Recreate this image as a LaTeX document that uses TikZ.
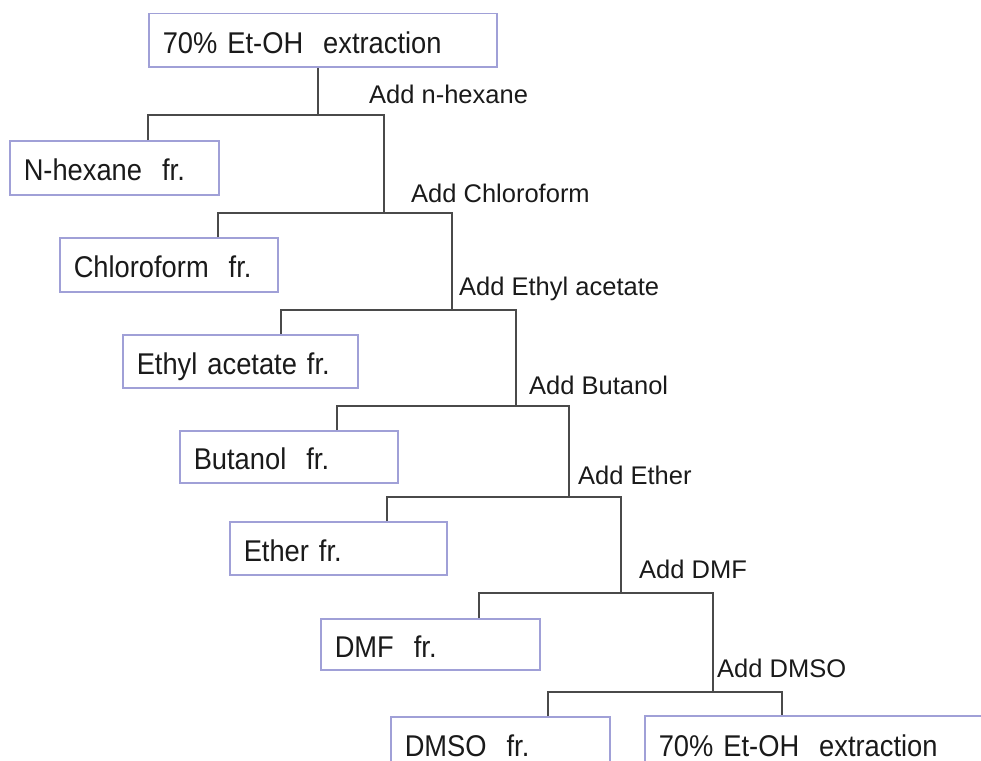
\documentclass[tikz,border=0pt]{standalone}
\usepackage{fontspec}
\setmainfont{Liberation Sans}
\newfontfamily\boxfont{Liberation Sans}[FakeStretch=0.91]
\definecolor{boxline}{RGB}{160,160,215}
\definecolor{conncol}{RGB}{74,74,74}
\definecolor{txtcol}{RGB}{26,26,26}
\tikzset{
  fbox/.style={draw=boxline, line width=1.5pt, anchor=north west, inner xsep=14pt, inner ysep=0pt,
    align=left, text height=26pt, text depth=0pt, text=txtcol,
    font=\boxfont\fontsize{30}{36}\selectfont},
  addlbl/.style={anchor=base west, inner sep=0pt, text=txtcol, font=\fontsize{25.5}{30}\selectfont},
  conn/.style={draw=conncol, line width=1.5pt}
}
\newcommand{\fbx}[6]{% name, x1, y1, x2, y2, text
  \pgfmathsetmacro{\bw}{#4-#2-28}
  \node[fbox, text width=\bw pt, minimum height=#5-#3] (#1) at (#2,#3) {#6};
}
\begin{document}
\begin{tikzpicture}[x=1pt,y=-1pt]
\useasboundingbox (0,0) rectangle (981,760);
\clip (0,0) rectangle (981,760);

\fbx{top}{148}{13}{496}{66}{70\% Et-OH\ \ extraction}
\fbx{nhex}{9}{140}{218}{194}{N-hexane\ \ fr.}
\fbx{chl}{59}{237}{277}{291}{Chloroform\ \ fr.}
\fbx{eth}{122}{334}{357}{387}{Ethyl acetate\ fr.}
\fbx{but}{179}{430}{397}{482}{Butanol\ \ fr.}
\fbx{ethr}{229}{521}{446}{574}{Ether\ fr.}
\fbx{dmf}{320}{618}{539}{669}{DMF\ \ fr.}
\fbx{dmso}{390}{716}{609}{770}{DMSO\ \ fr.}
\fbx{final}{644}{715}{1004}{770}{70\% Et-OH\ \ extraction}

\node[addlbl] (l1) at (369,103) {Add n-hexane};
\node[addlbl] (l2) at (411,202) {Add Chloroform};
\node[addlbl] (l3) at (459,295) {Add Ethyl acetate};
\node[addlbl] (l4) at (529,394) {Add Butanol};
\node[addlbl] (l5) at (578,484) {Add Ether};
\node[addlbl] (l6) at (639,578) {Add DMF};
\node[addlbl] (l7) at (717,677) {Add DMSO};

\coordinate (in0) at (318,115);
\coordinate (L1) at (148,115); \coordinate (R1) at (384,115);
\coordinate (L2) at (218,213); \coordinate (R2) at (452,213);
\coordinate (L3) at (281,310); \coordinate (R3) at (516,310);
\coordinate (L4) at (337,406); \coordinate (R4) at (569,406);
\coordinate (L5) at (387,497); \coordinate (R5) at (621,497);
\coordinate (L6) at (479,593); \coordinate (R6) at (713,593);
\coordinate (L7) at (548,692); \coordinate (R7) at (782,692);

\draw[conn] (top.south -| in0) -- (in0);
\draw[conn] (nhex.north -| L1) -- (L1) -- (R1) -- (R1 |- L2);
\draw[conn] (chl.north -| L2) -- (L2) -- (R2) -- (R2 |- L3);
\draw[conn] (eth.north -| L3) -- (L3) -- (R3) -- (R3 |- L4);
\draw[conn] (but.north -| L4) -- (L4) -- (R4) -- (R4 |- L5);
\draw[conn] (ethr.north -| L5) -- (L5) -- (R5) -- (R5 |- L6);
\draw[conn] (dmf.north -| L6) -- (L6) -- (R6) -- (R6 |- L7);
\draw[conn] (dmso.north -| L7) -- (L7) -- (R7) -- (R7 |- final.north);
\end{tikzpicture}
\end{document}
